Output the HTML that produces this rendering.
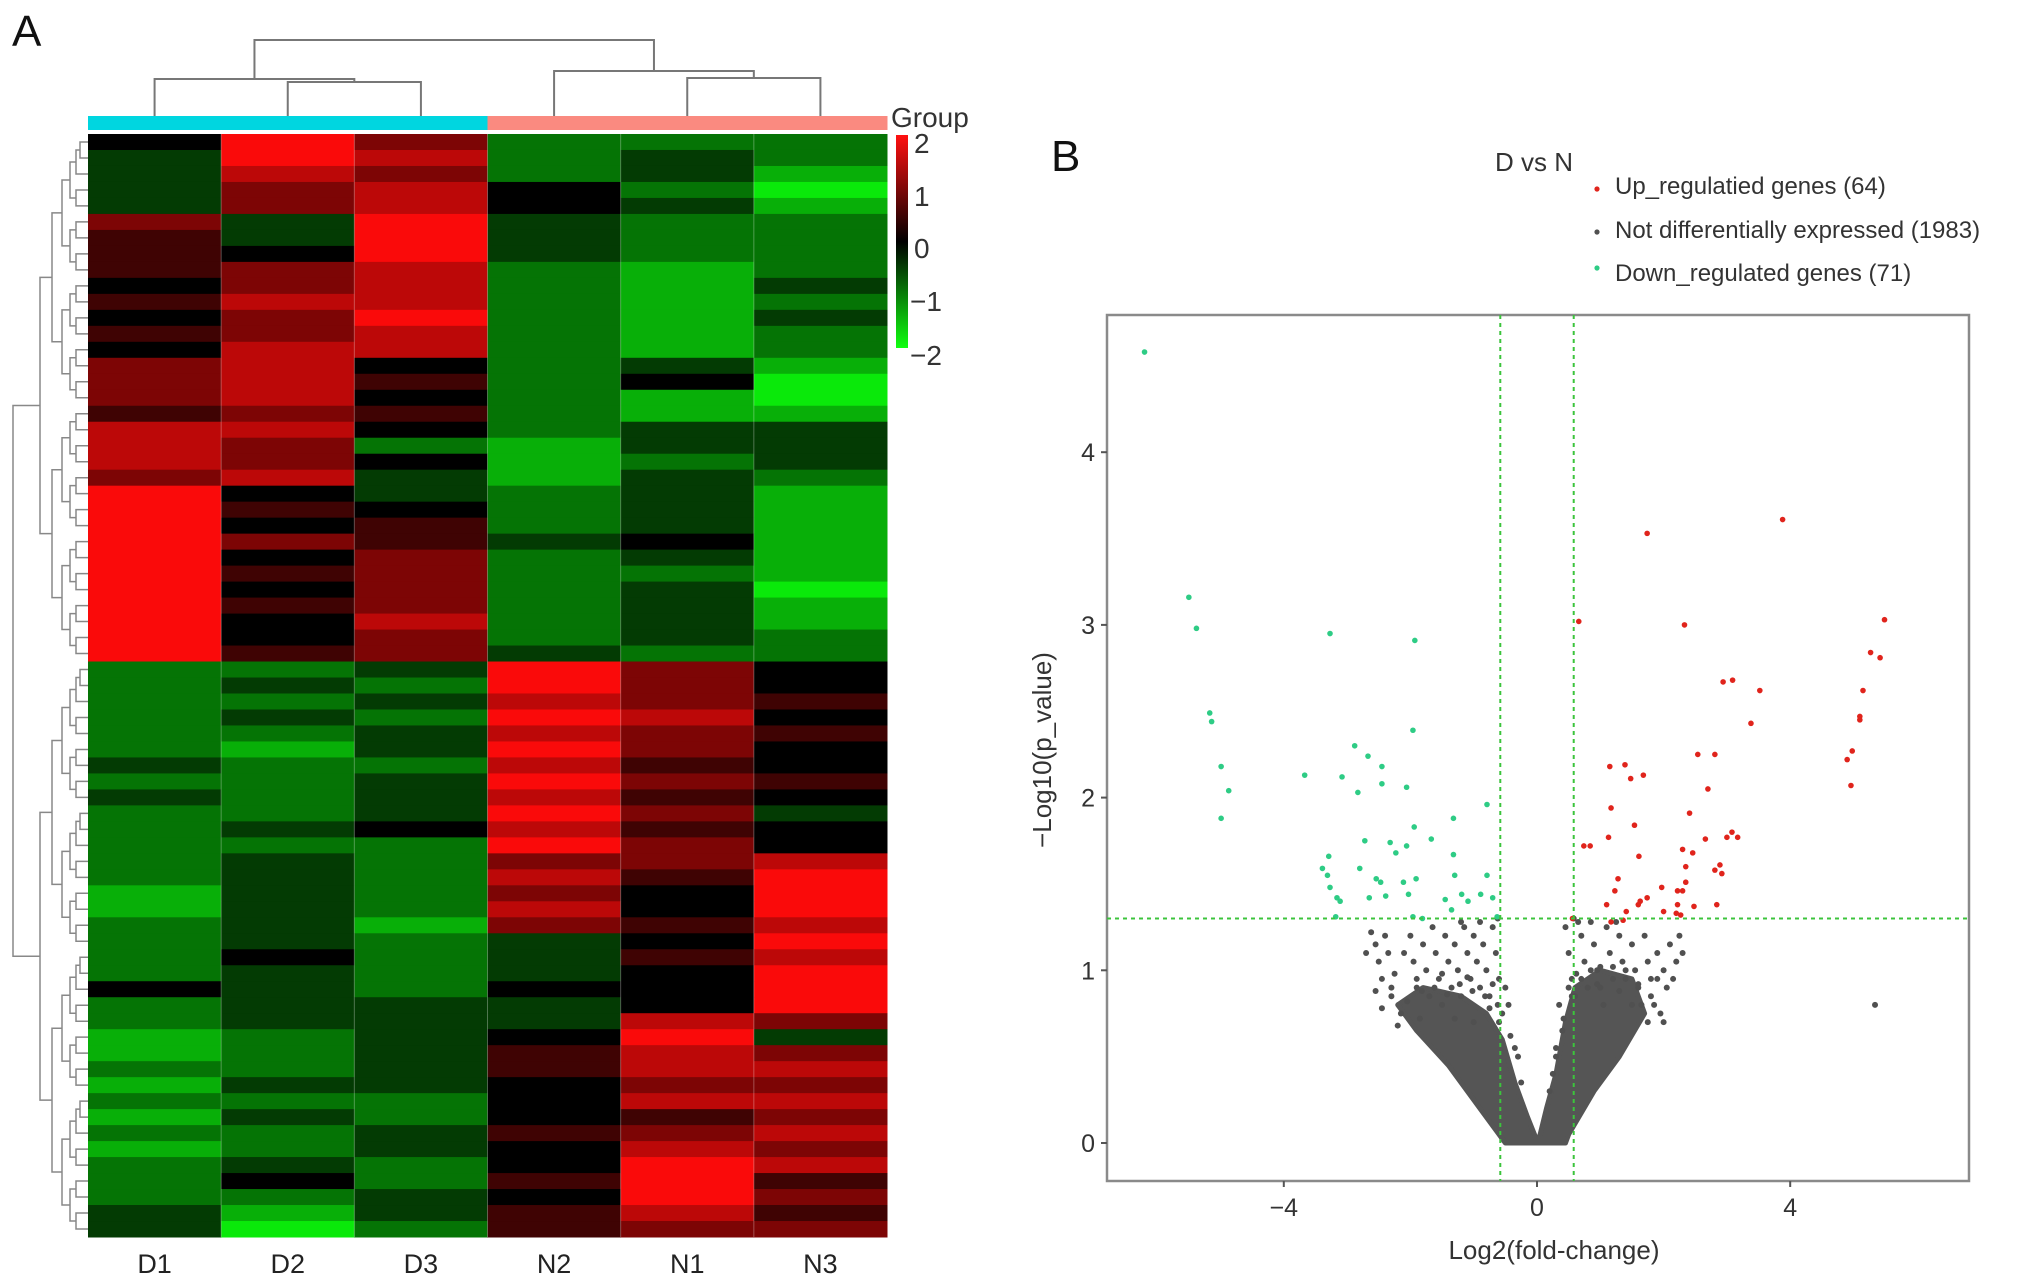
<!DOCTYPE html>
<html><head><meta charset="utf-8"><style>
html,body{margin:0;padding:0;background:#fff;}
svg{display:block;font-family:"Liberation Sans",Arial,sans-serif;}
</style></head><body>
<svg id="fig" width="2031" height="1285" viewBox="0 0 2031 1285" xmlns="http://www.w3.org/2000/svg">
<text x="12" y="46" font-size="44" fill="#111">A</text>
<text x="1051" y="171" font-size="44" fill="#111">B</text>
<g id="heat"></g>
<g id="coldendro" stroke="#777" stroke-width="2" fill="none"></g>
<g id="rowdendro" stroke="#888" stroke-width="1.5" fill="none"></g>
<g id="groupbar"></g>
<g>
<defs><linearGradient id="cg" x1="0" y1="0" x2="0" y2="1"><stop offset="0" stop-color="#ff1010"/><stop offset="0.5" stop-color="#000"/><stop offset="1" stop-color="#10ff10"/></linearGradient></defs>
<text x="891" y="127" font-size="28" fill="#333">Group</text>
<rect x="896" y="135" width="12" height="213" fill="url(#cg)"/>
<g font-size="28" fill="#333">
<text x="914" y="153">2</text>
<text x="914" y="206">1</text>
<text x="914" y="258">0</text>
<text x="910" y="311">−1</text>
<text x="910" y="365">−2</text>
</g></g>
<g id="collabels" font-size="27" fill="#222" text-anchor="middle"></g>
<g id="volcano"></g>
<text x="1495" y="171" font-size="26" fill="#333">D vs N</text>
<g font-size="24" fill="#333">
<circle cx="1597" cy="189" r="2.6" fill="#e0241c"/>
<text x="1615" y="194">Up_regulatied genes (64)</text>
<circle cx="1597" cy="232" r="2.6" fill="#505050"/>
<text x="1615" y="238">Not differentially expressed (1983)</text>
<circle cx="1597" cy="268" r="2.6" fill="#2ecc85"/>
<text x="1615" y="281">Down_regulated genes (71)</text>
</g>
</svg>
<script>
// ---------- Heatmap data ----------
const hmColumns = ["D1","D2","D3","N2","N1","N3"];
const hmGroups = ["D","D","D","N","N","N"];
// level letters: a=-2 ... e=0 ... i=2
const hmRows = ["eigccc","dihcdc","dhgcdb","dgheca","dghedb","gdidcc","fdidcc","feidcc",
"fghcbc","eghcbd","fhhcbc","egicbd","fghcbc","ehhcbc","ghecdb","ghfcea","ghecba","fgfcbb",
"hhecdd","hgcbdd","hgebcd","ghdbdc","iedcdb","ifecdb","iefcdb","igfdeb","iegcdb","ifgccb",
"iegcda","ifgcdb","iehcdb","iegcdc","ifgdcc",
"ccdige","cdcige","ccdhgf","cdcihe","ccdhgf","cbdige","dcchfe","ccdigf","dcdhfe","ccdigd","cdehfe","cccige",
"cdcggh","cdchfi","bdcgei","bdchei","cdbgfh","cdcdei","cecdfh","cdcdei","edceei","cdddei",
"cdddhg","bcdeid","bcdfhg","ccdfhh","bddegg","cccehh","bdcefg","ccdfgh","bcdehg","cdceih","cecfif","ccdeig","dbdfhf","dacfgg"];

// ---------- Volcano data ----------
const downX=[-6.2,-5.5,-5.38,-5.17,-5.14,-4.99,-4.87,-4.99,-3.27,-3.67,-3.08,-2.88,-2.67,-2.83,-2.45,-2.45,-1.96,-1.93,-2.06,-1.94,-2.32,-2.06,-2.23,-1.67,-2.72,-2.8,-3.29,-3.39,-3.31,-3.27,-3.16,-3.11,-3.18,-2.54,-2.47,-2.65,-2.39,-2.11,-2.03,-1.91,-1.96,-1.81,-1.32,-1.32,-1.30,-1.45,-1.19,-1.35,-0.79,-0.79,-0.89,-0.70,-0.63,-1.09];
const downY=[4.58,3.16,2.98,2.49,2.44,2.18,2.04,1.88,2.95,2.13,2.12,2.30,2.24,2.03,2.18,2.08,2.39,2.91,2.06,1.83,1.74,1.72,1.68,1.76,1.75,1.59,1.66,1.59,1.55,1.48,1.42,1.40,1.31,1.53,1.51,1.42,1.43,1.51,1.44,1.53,1.31,1.30,1.88,1.67,1.55,1.41,1.44,1.35,1.96,1.55,1.44,1.42,1.31,1.40];
const upX=[3.88,1.74,0.66,2.33,5.49,5.27,5.42,2.94,3.09,3.52,3.38,5.15,5.10,5.10,4.98,4.90,4.96,1.15,1.39,1.68,1.48,2.54,2.81,2.70,1.17,1.54,2.41,0.74,0.84,1.13,1.61,2.30,2.46,2.66,3.00,3.08,3.17,2.89,2.81,2.92,2.35,2.35,1.28,1.23,1.97,2.22,2.30,2.22,2.48,1.63,1.74,1.60,1.10,2.84,2.20,2.27,1.41,1.36,1.17,2.00,0.56];
const upY=[3.61,3.53,3.02,3.00,3.03,2.84,2.81,2.67,2.68,2.62,2.43,2.62,2.47,2.45,2.27,2.22,2.07,2.18,2.19,2.13,2.11,2.25,2.25,2.05,1.94,1.84,1.91,1.72,1.72,1.77,1.66,1.70,1.68,1.76,1.77,1.80,1.77,1.61,1.58,1.56,1.60,1.51,1.53,1.46,1.48,1.46,1.46,1.38,1.37,1.40,1.42,1.38,1.38,1.38,1.33,1.32,1.34,1.29,1.28,1.34,1.30];
const greyX=[5.34,-2.62,-2.55,-2.5,-2.45,-2.3,-2.25,-2.1,-2.0,-1.95,-1.9,-1.8,-1.75,-1.7,-1.65,-1.6,-1.55,-1.5,-1.45,-1.4,-1.35,-1.3,-1.25,-1.2,-1.15,-1.1,-1.05,-1.0,-0.95,-0.9,-0.85,-0.8,-0.75,-0.7,-0.65,-0.6,-0.55,-2.4,-2.15,-1.85,-2.7,-2.35,-1.2,-0.9,-0.5,-0.45,-1.0,-1.3,-2.2,-2.55,-2.45,
0.45,0.5,0.55,0.6,0.7,0.75,0.8,0.9,0.95,1.0,1.1,1.15,1.2,1.3,1.35,1.4,1.5,1.55,1.6,1.7,1.75,1.8,1.85,1.9,2.0,2.05,2.1,2.2,2.25,2.3,1.95,2.0,0.35,0.4,1.25,0.65,1.65,1.75,2.15,0.85,1.05,-0.62,0.58,-0.3,0.3,
-2.05,-1.82,-1.62,-1.42,-1.22,-1.02,-0.82,-0.62,-0.42,-2.3,-1.9,-1.5,-1.1,-0.7,-0.35,-0.25,-0.6,-0.75,
0.2,0.3,0.42,0.55,0.7,0.85,1.0,1.2,1.4,1.6,1.8,1.3,0.95,0.62,0.5,0.25,1.9,1.5];
const greyY=[0.80,1.22,1.15,1.05,0.95,0.85,0.98,1.1,1.2,1.05,0.9,1.15,1.0,0.85,1.25,1.1,0.95,0.8,1.2,1.05,0.9,1.15,1.0,0.85,1.25,1.1,0.95,1.2,1.05,0.9,1.15,1.0,0.85,1.25,1.1,0.95,0.75,1.2,0.75,0.72,1.1,1.1,1.28,1.28,0.9,0.8,0.7,0.72,0.68,0.88,0.78,
1.25,1.1,0.95,0.85,1.2,1.05,0.9,1.15,1.0,0.9,1.25,1.1,0.95,1.2,1.05,0.95,1.15,1.0,0.9,1.2,1.05,0.95,0.8,1.1,1.0,0.9,1.15,1.05,1.2,1.1,0.75,0.7,0.8,0.65,1.28,1.28,0.8,0.7,0.95,1.28,0.8,1.3,1.3,0.5,0.5,
0.82,0.88,0.9,0.86,0.92,0.88,0.85,0.8,0.62,0.9,0.95,0.98,0.96,0.92,0.55,0.35,0.7,0.78,
0.3,0.55,0.72,0.85,0.95,1.0,1.02,1.02,1.0,0.92,0.85,0.88,0.92,0.98,0.9,0.4,0.95,0.8];
const cloudLX=[-0.5,-0.9,-1.4,-1.9,-2.2,-1.8,-1.2,-0.8,-0.55,-0.35,-0.15,-0.03,0.0];
const cloudLY=[0,0.2,0.45,0.65,0.8,0.9,0.85,0.75,0.6,0.35,0.15,0.04,0];
const cloudRX=[0.0,0.05,0.15,0.3,0.45,0.6,1.0,1.5,1.7,1.3,0.9,0.5,0.45];
const cloudRY=[0,0.05,0.2,0.4,0.7,0.9,1.0,0.95,0.75,0.5,0.3,0.05,0];
const xTicks=[-4,0,4];
const yTicks=[0,1,2,3,4];
const fcCut=0.58, pCut=1.3;

const NS="http://www.w3.org/2000/svg";
function mk(tag,attrs,parent){const e=document.createElementNS(NS,tag);for(const k in attrs)e.setAttribute(k,attrs[k]);parent.appendChild(e);return e;}

// ---- heatmap ----
const HL=88,HR=887,HT=134,HB=1237;
const cw=(HR-HL)/hmColumns.length, rh=(HB-HT)/hmRows.length;
function lvl(ch){return (ch.charCodeAt(0)-101)*0.5;}
function col(v){const t=Math.min(1,Math.abs(v)/2);const c=Math.round(250*t);return v>=0?`rgb(${c},${Math.round(c*0.04)},${Math.round(c*0.04)})`:`rgb(${Math.round(c*0.04)},${Math.round(c*0.93)},${Math.round(c*0.04)})`;}
const heat=document.getElementById('heat');
hmRows.forEach((r,i)=>{for(let j=0;j<hmColumns.length;j++){
 const e=mk('rect',{x:HL+j*cw,y:HT+i*rh,width:cw+0.5,height:rh+0.5,fill:col(lvl(r[j]))},heat);
 
 
}});
for(let j=1;j<hmColumns.length;j++){const l=mk('line',{x1:HL+j*cw,x2:HL+j*cw,y1:HT,y2:HB,stroke:'rgba(255,255,255,0.3)','stroke-width':1},heat);
 
 }
const gb=document.getElementById('groupbar');
hmGroups.forEach((g,j)=>{const e=mk('rect',{x:HL+j*cw,y:116,width:cw+0.5,height:14,fill:g==='D'?'#00d6e0':'#fa8a80'},gb);
 
 });
const cl=document.getElementById('collabels');
hmColumns.forEach((c,j)=>{const t=mk('text',{x:HL+(j+0.5)*cw,y:1273},cl);t.textContent=c;
 
 });
const cd=document.getElementById('coldendro');
function cx(j){return HL+(j+0.5)*cw;}
function uPath(x1,x2,y,y1b,y2b){mk('path',{d:`M${x1},${y1b}V${y}H${x2}V${y2b}`},cd);}
uPath(cx(1),cx(2),82,116,116);
uPath(cx(0),(cx(1)+cx(2))/2,79,116,82);
uPath(cx(4),cx(5),78,116,116);
uPath(cx(3),(cx(4)+cx(5))/2,71,116,78);
uPath((cx(0)+(cx(1)+cx(2))/2)/2,(cx(3)+(cx(4)+cx(5))/2)/2,40,79,71);
const rd=document.getElementById('rowdendro');
const depthX=[13,40,52,62,70,76,80,84,86];
function node(lo,hi,d){
 if(lo===hi) return {y:HT+(lo+0.5)*rh,x:HL};
 const mid=(d===0)?32:Math.floor((lo+hi)/2);
 const a=node(lo,mid,d+1),b=node(mid+1,hi,d+1);
 const x=depthX[Math.min(d,depthX.length-1)];
 mk('path',{d:`M${a.x},${a.y}H${x}V${b.y}H${b.x}`},rd);
 return {y:(a.y+b.y)/2,x:x};
}
node(0,hmRows.length-1,0);

// ---- volcano ----
const PL=1107,PR=1969,PT=315,PB=1181;
const X0=1537,XS=63.3,Y0=1143,YS=172.7;
function sx(v){return X0+v*XS;} function sy(v){return Y0-v*YS;}
const vg=document.getElementById('volcano');
const frame=mk('rect',{x:PL,y:PT,width:PR-PL,height:PB-PT,fill:'none',stroke:'#8a8a8a','stroke-width':2.5},vg);


[[cloudLX,cloudLY,'left'],[cloudRX,cloudRY,'right']].forEach(([xs,ys,n])=>{
 const p=mk('polygon',{points:xs.map((x,i)=>sx(x)+','+sy(ys[i])).join(' '),fill:'#555',stroke:'#555','stroke-width':5,'stroke-linejoin':'round'},vg);
 
 
});
greyX.forEach((x,i)=>{const c=mk('circle',{cx:sx(x),cy:sy(greyY[i]),r:3,fill:'#505050'},vg);
 
 });
downX.forEach((x,i)=>{const c=mk('circle',{cx:sx(x),cy:sy(downY[i]),r:2.8,fill:'#2ecc85'},vg);
 
 });
upX.forEach((x,i)=>{const c=mk('circle',{cx:sx(x),cy:sy(upY[i]),r:2.8,fill:'#e0241c'},vg);
 
 });
[-fcCut,fcCut].forEach(v=>{const l=mk('line',{x1:sx(v),x2:sx(v),y1:PT,y2:PB,stroke:'#3cc43c','stroke-width':2,'stroke-dasharray':'4,4'},vg);
 
 });
const hl=mk('line',{x1:PL,x2:PR,y1:sy(pCut),y2:sy(pCut),stroke:'#3cc43c','stroke-width':2,'stroke-dasharray':'4,4'},vg);


xTicks.forEach(v=>{mk('line',{x1:sx(v),x2:sx(v),y1:PB,y2:PB+6,stroke:'#555','stroke-width':2},vg);
 const t=mk('text',{x:sx(v),y:1216,'font-size':25,'text-anchor':'middle',fill:'#333'},vg);t.textContent=v<0?'−'+Math.abs(v):String(v);
 
 });
yTicks.forEach(v=>{mk('line',{x1:PL-6,x2:PL,y1:sy(v),y2:sy(v),stroke:'#555','stroke-width':2},vg);
 const t=mk('text',{x:PL-12,y:sy(v)+9,'font-size':25,'text-anchor':'end',fill:'#333'},vg);t.textContent=String(v);
 
 });
const xt=mk('text',{x:1554,y:1259,'font-size':26,'text-anchor':'middle',fill:'#333'},vg);xt.textContent='Log2(fold-change)';


const yt=mk('text',{x:0,y:0,'font-size':26,'text-anchor':'middle',fill:'#333',transform:'translate(1051,750) rotate(-90)'},vg);yt.textContent='−Log10(p_value)';


</script>
</body></html>
